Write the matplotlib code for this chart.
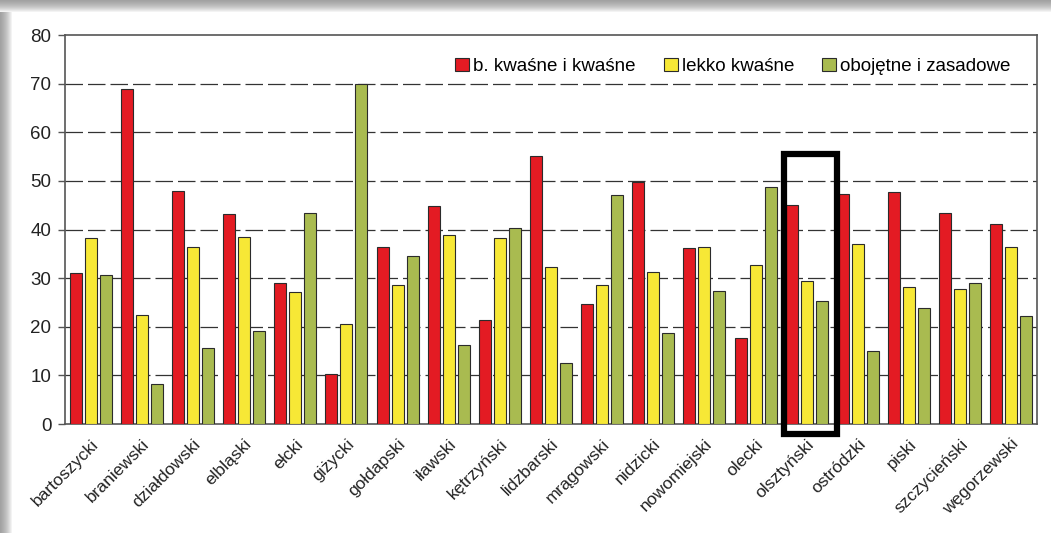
import numpy as np
import matplotlib
matplotlib.use("Agg")
import matplotlib.pyplot as plt
from matplotlib.patches import Rectangle

plt.rcParams['font.family'] = ['Liberation Sans', 'DejaVu Sans']

powiaty = ['bartoszycki', 'braniewski', 'działdowski', 'elbląski', 'ełcki',
           'giżycki', 'gołdapski', 'iławski', 'kętrzyński', 'lidzbarski',
           'mrągowski', 'nidzicki', 'nowomiejski', 'olecki', 'olsztyński',
           'ostródzki', 'piski', 'szczycieński', 'węgorzewski']

kwasne = [31.1, 68.9, 47.9, 43.1, 29.0, 10.2, 36.4, 44.8, 21.4, 55.2,
          24.6, 49.8, 36.2, 17.6, 45.0, 47.4, 47.8, 43.4, 41.1]
lekko_kwasne = [38.3, 22.5, 36.4, 38.5, 27.1, 20.5, 28.5, 38.8, 38.3, 32.2,
                28.5, 31.3, 36.4, 32.8, 29.4, 37.1, 28.2, 27.7, 36.4]
obojetne = [30.7, 8.2, 15.7, 19.1, 43.4, 70.0, 34.5, 16.3, 40.4, 12.5,
            47.0, 18.8, 27.3, 48.7, 25.3, 15.1, 23.9, 29.0, 22.2]

serie = ['b. kwaśne i kwaśne', 'lekko kwaśne', 'obojętne i zasadowe']
kolory = ['#e31b23', '#f7e836', '#a9bb50']
wyrozniony = 'olsztyński'

fig = plt.figure(figsize=(10.51, 5.33), dpi=100)
fig.patch.set_facecolor('white')

# szara "ramka" z cieniem u gory i z lewej
for i in range(12):
    fig.patches.append(Rectangle((0, 1 - (12 - i) / 533), 1, (12 - i) / 533,
                                 transform=fig.transFigure, color='#7a7a7a',
                                 alpha=0.09, lw=0, zorder=-5))
    fig.patches.append(Rectangle((0, 0), (12 - i) / 1051, 1 - 12 / 533,
                                 transform=fig.transFigure, color='#7a7a7a',
                                 alpha=0.09, lw=0, zorder=-5))

ax = fig.add_axes([0.062, 0.2045, 0.9245, 0.7298])

x = np.arange(len(powiaty))
w = 0.235
step = 0.293
for k, (vals, lab, col) in enumerate(zip([kwasne, lekko_kwasne, obojetne], serie, kolory)):
    ax.bar(x + (k - 1) * step, vals, width=w, color=col, edgecolor='#2b2b2b',
           linewidth=0.8, label=lab, zorder=3)

ax.set_xlim(-0.5, len(powiaty) - 0.5)
ax.set_ylim(0, 80)
ax.set_yticks(range(0, 81, 10))
ax.tick_params(axis='y', labelsize=13.5, length=5, width=1, color='#555555', pad=5)
ax.tick_params(axis='x', length=0, pad=9)
ax.set_xticks(x)
ax.set_xticklabels(powiaty, rotation=45, ha='right', rotation_mode='anchor',
                   fontsize=12.5, color='#222222')
for t in ax.get_yticklabels():
    t.set_color('#222222')

for y in range(10, 80, 10):
    ax.axhline(y, color='#333333', lw=0.9, dashes=(14, 4), zorder=1)

for s in ax.spines.values():
    s.set_color('#555555')
    s.set_linewidth(1.2)

# ramka wokol wyroznionego powiatu
i = powiaty.index(wyrozniony)
ax.add_patch(Rectangle((i - 0.45, -2.1), 1.04, 57.7, fill=False, edgecolor='black',
                       linewidth=4.5, clip_on=False, zorder=5))

ax.legend(loc='upper right', ncol=3, frameon=False, fontsize=13.5,
          handlelength=0.75, handleheight=0.75, handletextpad=0.2,
          columnspacing=1.5, bbox_to_anchor=(0.99, 0.985))

fig.savefig('out.png', dpi=100)
